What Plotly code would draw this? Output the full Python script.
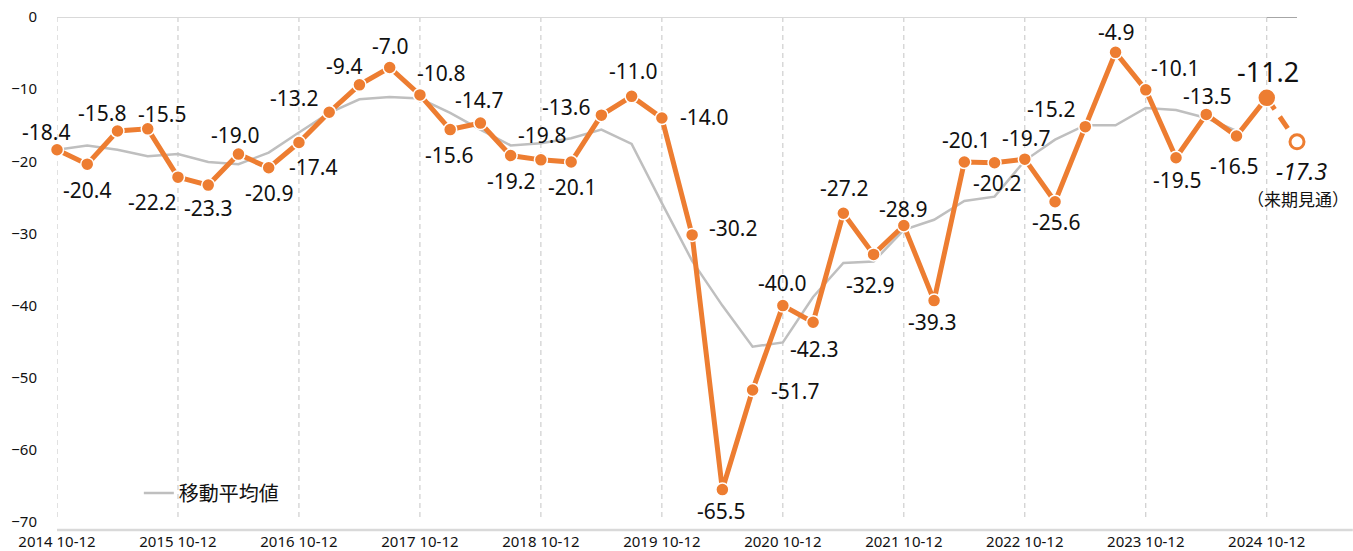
import plotly.graph_objects as go

# ---------------- data ----------------
months = ["1-3", "4-6", "7-9", "10-12"]
quarters = [f"{2014 + (3 + i) // 4} {months[(3 + i) % 4]}" for i in range(42)]

actual = [
    -18.4, -20.4, -15.8, -15.5, -22.2, -23.3, -19.0, -20.9, -17.4, -13.2,
    -9.4, -7.0, -10.8, -15.6, -14.7, -19.2, -19.8, -20.1, -13.6, -11.0,
    -14.0, -30.2, -65.5, -51.7, -40.0, -42.3, -27.2, -32.9, -28.9, -39.3,
    -20.1, -20.2, -19.7, -25.6, -15.2, -4.9, -10.1, -19.5, -13.5, -16.5,
    -11.2,
]
forecast = -17.3
forecast_note = "（来期見通）"

moving_avg = [
    -18.4, -17.8, -18.4, -19.3, -19.0, -20.1, -20.4, -18.8, -16.0, -13.3,
    -11.4, -11.1, -11.3, -13.3, -15.6, -17.8, -17.5, -16.8, -15.6, -17.6,
    -25.8, -33.8, -40.0, -45.7, -45.1, -38.8, -34.1, -33.9, -29.5, -28.1,
    -25.5, -24.9, -19.9, -17.0, -15.0, -15.0, -12.6, -12.9, -14.0, -15.8,
]
ma_name = "移動平均値"

tick_idx = list(range(0, 41, 4))
tick_vals = [quarters[i] for i in tick_idx]
tick_text = [quarters[i] for i in tick_idx]
y_ticks = [0, -10, -20, -30, -40, -50, -60, -70]

# label offsets in pixels (dx right, dy down) - layout only
label_offsets = [
    (-11, -18), (0, 26), (-15, -18), (14, -15), (-26, 25), (0, 23), (-3, -19), (0, 25), (14, 24), (-35, -14),
    (-15, -19), (0, -22), (21, -22), (-1, 25), (-1, -23), (0, 25), (1, -25), (1, 25), (-35, -8), (1, -25),
    (42, -1), (41, -7), (-1, 21), (42, 1), (-1, -23), (1, 27), (1, -25), (-4, 31), (-1, -17), (-2, 21),
    (2, -22), (2, 20), (1, -21), (1, 20), (-34, -18), (0, -20), (29, -22), (1, 22), (1, -18), (-3, 30),
]

ORANGE = "#ED7D31"
GRAY = "#BFBFBF"
TXT = "#111111"
FONT = "Noto Sans, Noto Sans CJK JP, sans-serif"
CJK = "Noto Sans CJK JP, Noto Sans, sans-serif"

fig = go.Figure()

# moving average
fig.add_trace(go.Scatter(
    x=quarters[:len(moving_avg)], y=moving_avg, mode="lines", name=ma_name,
    line=dict(color=GRAY, width=2.5), cliponaxis=False, hoverinfo="skip",
))

# forecast dashed segment
fig.add_trace(go.Scatter(
    x=[quarters[40], quarters[41]], y=[actual[-1], forecast], mode="lines",
    line=dict(color=ORANGE, width=5, dash="14px,9px"), showlegend=False,
    cliponaxis=False,
))

# actual line
fig.add_trace(go.Scatter(
    x=quarters[:len(actual)], y=actual, mode="lines+markers",
    line=dict(color=ORANGE, width=5),
    marker=dict(size=13, color=ORANGE, line=dict(color="white", width=1.5)),
    showlegend=False, cliponaxis=False,
))

# latest big marker
fig.add_trace(go.Scatter(
    x=[quarters[40]], y=[actual[-1]], mode="markers",
    marker=dict(size=18, color=ORANGE, line=dict(color="white", width=1.5)),
    showlegend=False, cliponaxis=False,
))

# forecast hollow marker
fig.add_trace(go.Scatter(
    x=[quarters[41]], y=[forecast], mode="markers",
    marker=dict(size=14, color="white", line=dict(color=ORANGE, width=3)),
    showlegend=False, cliponaxis=False,
))

annotations = []
for i, v in enumerate(actual[:40]):
    dx, dy = label_offsets[i]
    annotations.append(dict(
        x=quarters[i], y=v, text=f"{v:.1f}", showarrow=False,
        xshift=dx, yshift=-dy, font=dict(size=21, color=TXT, family=FONT),
    ))
annotations.append(dict(
    x=quarters[40], y=actual[40], text=f"{actual[40]:.1f}", showarrow=False,
    xshift=1, yshift=26, font=dict(size=27, color=TXT, family=FONT),
))
annotations.append(dict(
    x=quarters[41], y=forecast, text=f"<i>{forecast:.1f}</i>", showarrow=False,
    xshift=4, yshift=-29, font=dict(size=23, color=TXT, family=FONT),
))
annotations.append(dict(
    x=quarters[41], y=forecast, text=forecast_note, showarrow=False,
    xshift=1, yshift=-57, font=dict(size=17, color=TXT, family=CJK),
))

shapes = []
for i in tick_idx:
    shapes.append(dict(type="line", xref="x", yref="y", x0=quarters[i], x1=quarters[i],
                       y0=0, y1=-69.4, line=dict(color="#C4C4C4", width=1, dash="5px,4px"),
                       layer="below"))
shapes.append(dict(type="line", xref="x", yref="y", x0=quarters[0], x1=quarters[41],
                   y0=0, y1=0, line=dict(color="#D9D9D9", width=2), layer="below"))
shapes.append(dict(type="line", xref="x", yref="y", x0=quarters[40], x1=quarters[41],
                   y0=0, y1=0, line=dict(color="#A6A6A6", width=2), layer="below"))
shapes.append(dict(type="line", xref="paper", yref="paper", x0=0, x1=1.045,
                   y0=0, y1=0, line=dict(color="#D9D9D9", width=2.5), layer="below"))

fig.update_layout(
    width=1353, height=551,
    margin=dict(l=57, r=56, t=17, b=21, autoexpand=False),
    paper_bgcolor="white", plot_bgcolor="white",
    font=dict(family=FONT, color=TXT),
    showlegend=True,
    hovermode=False,
    legend=dict(x=0.066, y=0.072, xanchor="left", yanchor="middle",
                bgcolor="rgba(0,0,0,0)", font=dict(size=20, color=TXT, family=CJK),
                itemwidth=30),
    annotations=annotations,
    shapes=shapes,
    xaxis=dict(type="category", categoryorder="array", categoryarray=quarters,
               range=[0, 41], showgrid=False, zeroline=False, showline=False,
               automargin=False, ticklabeloverflow="allow",
               tickmode="array", tickvals=tick_vals, ticktext=tick_text, ticks="",
               tickfont=dict(size=15, color=TXT, family=FONT), ticklabelstandoff=1),
    yaxis=dict(range=[-71.1, 0], showgrid=False, zeroline=False, showline=False,
               automargin=False, ticklabeloverflow="allow",
               tickmode="array", tickvals=y_ticks, ticks="",
               tickfont=dict(size=15, color=TXT, family=FONT), ticklabelstandoff=19),
)

# remove the browser's default page margin so the figure fills the window exactly
fig.write_html("out.html",
               config={"displayModeBar": False},
               post_script="document.body.style.margin='0';document.body.style.overflow='hidden';")
